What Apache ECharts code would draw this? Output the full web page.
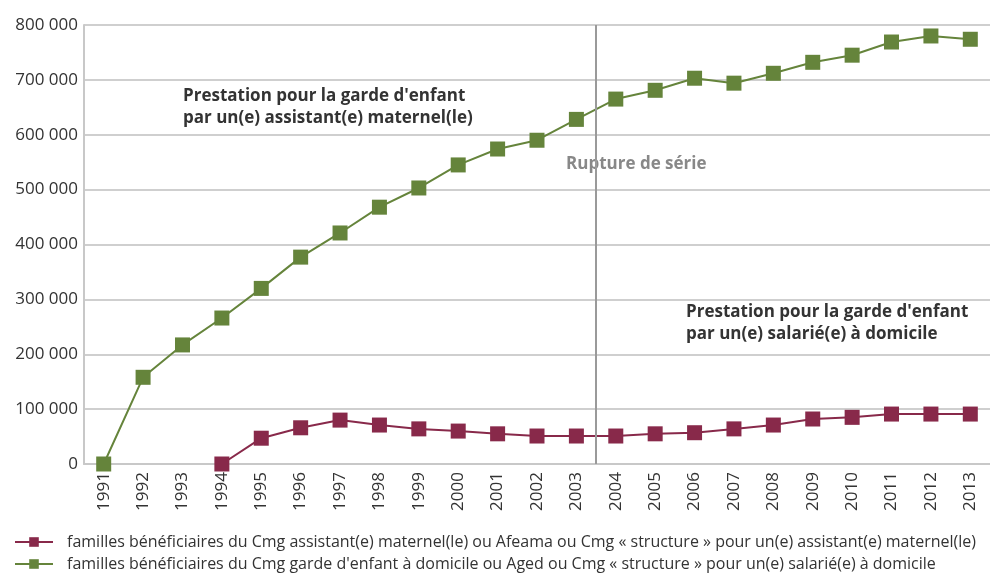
<!DOCTYPE html>
<html>
<head>
<meta charset="utf-8">
<script src="https://cdn.jsdelivr.net/npm/echarts@6/dist/echarts.min.js"></script>
<style>
  html, body { margin: 0; padding: 0; background: #fff; }
  #chart { width: 990px; height: 574px; }
</style>
</head>
<body>
<div id="chart"></div>
<script>
// années
const years = ['1991','1992','1993','1994','1995','1996','1997','1998','1999','2000','2001','2002',
  '2003','2004','2005','2006','2007','2008','2009','2010','2011','2012','2013'];

// assistant(e) maternel(le) – bordeaux
const assistante = [null, null, null, 0, 47000, 66000, 80000, 71000, 64000, 60000, 55000, 51000,
  51000, 51000, 55000, 57000, 64000, 71000, 82000, 85000, 91000, 91000, 91000];

// garde à domicile – vert
const domicile = [0, 158000, 217000, 266000, 320000, 377000, 421000, 468000, 503000, 545000, 574000, 590000,
  628000, 665000, 681000, 703000, 694000, 712000, 732000, 745000, 769000, 780000, 774000];

// rupture de série entre 2003 et 2004 (position en index de catégorie)
const rupture = 12.5;

const legendNames = [
  'familles bénéficiaires du Cmg assistant(e) maternel(le) ou Afeama ou Cmg « structure » pour un(e) assistant(e) maternel(le)',
  'familles bénéficiaires du Cmg garde d\'enfant à domicile ou Aged ou Cmg « structure » pour un(e) salarié(e) à domicile'
];

const FONT = 'Open Sans';
const chart = echarts.init(document.getElementById('chart'), null, { renderer: 'canvas' });

const legendBase = {
  left: 9,
  itemWidth: 38,
  itemHeight: 12,
  selectedMode: false,
  textStyle: { fontSize: 16, color: '#333', fontFamily: FONT, padding: [0, 0, 0, 9] }
};

chart.setOption({
  animation: false,
  textStyle: { fontFamily: FONT },
  grid: { left: 84, right: 0, top: 25, bottom: 110, containLabel: false },
  legend: [
    Object.assign({}, legendBase, { top: 529, data: [legendNames[0]] }),
    Object.assign({}, legendBase, { top: 551, data: [legendNames[1]] })
  ],
  xAxis: [
    {
      type: 'category',
      data: years,
      boundaryGap: true,
      axisLine: { lineStyle: { color: '#c8c8c8', width: 2 } },
      axisTick: { inside: true, length: 10, lineStyle: { color: '#c8c8c8', width: 2 } },
      axisLabel: { rotate: 90, fontSize: 17, color: '#333', margin: 8, fontFamily: FONT }
    },
    {
      // axe caché pour placer la ligne de rupture entre deux catégories
      type: 'value', min: -0.5, max: years.length - 0.5, show: false
    }
  ],
  yAxis: {
    type: 'value',
    min: 0,
    max: 800000,
    interval: 100000,
    axisLine: { show: true, onZero: false, lineStyle: { color: '#c8c8c8', width: 2 } },
    axisTick: { show: false },
    splitLine: { lineStyle: { color: '#cfcfcf', width: 2 } },
    axisLabel: {
      fontSize: 17, color: '#333', margin: 6, fontFamily: FONT,
      formatter: v => String(v).replace(/\B(?=(\d{3})+(?!\d))/g, ' ')
    }
  },
  series: [
    {
      type: 'line',
      xAxisIndex: 1,
      data: [],
      silent: true,
      markLine: {
        silent: true,
        symbol: 'none',
        label: { show: false },
        lineStyle: { color: '#9a9a9a', width: 2, type: 'solid' },
        data: [{ xAxis: rupture }]
      },
      z: 1
    },
    {
      name: legendNames[0],
      type: 'line',
      data: assistante,
      symbol: 'rect',
      symbolSize: 15,
      itemStyle: { color: '#88294a' },
      lineStyle: { color: '#88294a', width: 2 },
      z: 3
    },
    {
      name: legendNames[1],
      type: 'line',
      data: domicile,
      symbol: 'rect',
      symbolSize: 15,
      itemStyle: { color: '#65843b' },
      lineStyle: { color: '#65843b', width: 2 },
      z: 3
    }
  ],
  graphic: [
    {
      type: 'text', left: 183, top: 85,
      style: {
        text: 'Prestation pour la garde d\'enfant\npar un(e) assistant(e) maternel(le)',
        font: 'bold 17px ' + FONT, fill: '#333', lineHeight: 22
      }
    },
    {
      type: 'text', left: 566, top: 156,
      style: { text: 'Rupture de série', font: 'bold 17px ' + FONT, fill: '#888' }
    },
    {
      type: 'text', left: 686, top: 301,
      style: {
        text: 'Prestation pour la garde d\'enfant\npar un(e) salarié(e) à domicile',
        font: 'bold 17px ' + FONT, fill: '#333', lineHeight: 22
      }
    }
  ]
});
</script>
</body>
</html>
